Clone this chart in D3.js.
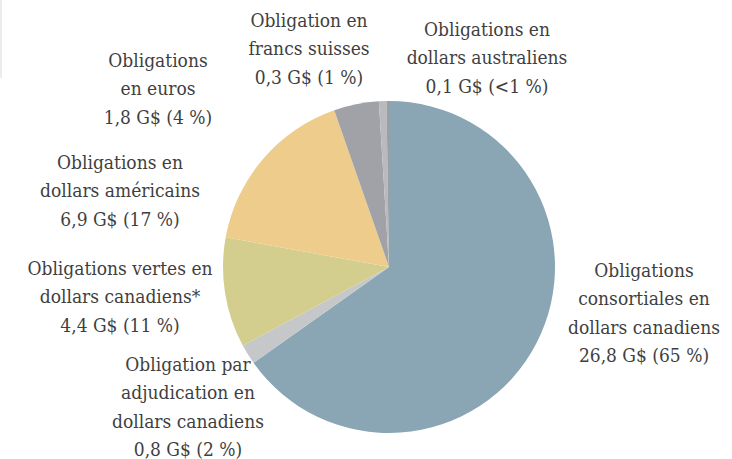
<!DOCTYPE html>
<html>
<head>
<meta charset="utf-8">
<script src="https://cdn.jsdelivr.net/npm/d3@7"></script>
<style>
  body { margin: 0; background: #fff; }
  svg text {
    font-family: 'DejaVu Serif Condensed', 'DejaVu Serif', serif;
    font-stretch: condensed;
    font-size: 19px;
    fill: #3f3f3f;
    text-anchor: middle;
  }
</style>
</head>
<body>
<svg id="chart" width="732" height="459"></svg>
<script>
// data, clockwise from 12 o'clock
var names = [
  ['Obligations', 'consortiales en', 'dollars canadiens'],
  ['Obligation par', 'adjudication en', 'dollars canadiens'],
  ['Obligations vertes en', 'dollars canadiens*'],
  ['Obligations en', 'dollars américains'],
  ['Obligations', 'en euros'],
  ['Obligation en', 'francs suisses'],
  ['Obligations en', 'dollars australiens']
];
var values = [26.8, 0.8, 4.4, 6.9, 1.8, 0.3, 0.1];
var pctLabels = ['65 %', '2 %', '11 %', '17 %', '4 %', '1 %', '<1 %'];
var colors = ['#8aa6b4', '#c6c7c9', '#d3ce8e', '#eecd8c', '#a0a2a7', '#b8babd', '#9c9ea3'];

// where each label block sits (center x, first baseline)
var labelPos = [[644, 277], [188, 371], [120, 275], [120, 169], [158, 67], [309, 27], [487, 36]];

var svg = d3.select('#chart');
var cx = 389, cy = 267, r = 166;

// faint strip at top left of the original
svg.append('rect').attr('x', 0).attr('y', 0).attr('width', 2).attr('height', 78).attr('fill', '#ececec');

var pie = d3.pie().sort(null).value(function(d) { return d; });
var arc = d3.arc().innerRadius(0).outerRadius(r);

var g = svg.append('g').attr('transform', 'translate(' + cx + ',' + cy + ')');
g.selectAll('path')
  .data(pie(values))
  .enter().append('path')
  .attr('d', arc)
  .attr('fill', function(d, i) { return colors[i]; });

var fmt = d3.formatLocale({ decimal: ',', thousands: ' ', grouping: [3], currency: ['', ''] }).format('.1f');

names.forEach(function(lines, i) {
  var all = lines.concat([fmt(values[i]) + ' G$ (' + pctLabels[i] + ')']);
  var t = svg.append('text')
    .attr('x', labelPos[i][0])
    .attr('y', labelPos[i][1]);
  all.forEach(function(s, j) {
    t.append('tspan')
      .attr('x', labelPos[i][0])
      .attr('dy', j === 0 ? 0 : 28.4)
      .text(s);
  });
});
</script>
</body>
</html>
